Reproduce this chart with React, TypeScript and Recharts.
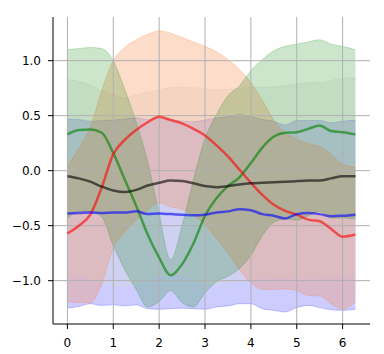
import React from 'react';
import { ComposedChart, Area, Line, XAxis, YAxis, ReferenceLine } from 'recharts';

const xs = [0, 0.25, 0.5, 0.75, 1, 1.25, 1.5, 1.75, 2, 2.25, 2.5, 2.75, 3, 3.25, 3.5, 3.75, 4, 4.25, 4.5, 4.75, 5, 5.25, 5.5, 5.75, 6, 6.28];

const redMean = [-0.57, -0.5, -0.4, -0.15, 0.15, 0.28, 0.37, 0.44, 0.49, 0.46, 0.43, 0.38, 0.32, 0.23, 0.13, 0.01, -0.11, -0.22, -0.31, -0.365, -0.4, -0.445, -0.46, -0.53, -0.6, -0.58];
const redStd = [0.62, 0.7, 0.8, 0.88, 0.85, 0.84, 0.82, 0.8, 0.78, 0.79, 0.78, 0.79, 0.81, 0.85, 0.88, 0.91, 0.91, 0.86, 0.77, 0.71, 0.69, 0.69, 0.68, 0.68, 0.66, 0.61];

const greenMean = [0.33, 0.37, 0.375, 0.345, 0.16, -0.08, -0.32, -0.58, -0.79, -0.95, -0.85, -0.66, -0.41, -0.25, -0.14, -0.06, 0.07, 0.21, 0.31, 0.345, 0.35, 0.38, 0.41, 0.36, 0.35, 0.33];
const greenStd = [0.77, 0.74, 0.745, 0.765, 0.84, 0.82, 0.76, 0.66, 0.4, 0.14, 0.35, 0.58, 0.7, 0.76, 0.82, 0.83, 0.84, 0.8, 0.78, 0.785, 0.8, 0.79, 0.78, 0.79, 0.78, 0.77];

const blueMean = [-0.39, -0.385, -0.38, -0.385, -0.38, -0.38, -0.37, -0.395, -0.39, -0.395, -0.4, -0.405, -0.4, -0.38, -0.37, -0.35, -0.36, -0.395, -0.41, -0.435, -0.395, -0.385, -0.395, -0.415, -0.41, -0.4];
const blueStd = [0.86, 0.85, 0.83, 0.84, 0.84, 0.85, 0.85, 0.86, 0.87, 0.86, 0.85, 0.85, 0.86, 0.86, 0.86, 0.86, 0.85, 0.86, 0.86, 0.85, 0.85, 0.84, 0.85, 0.85, 0.86, 0.86];

const blackMean = [-0.05, -0.07, -0.1, -0.145, -0.18, -0.195, -0.175, -0.135, -0.11, -0.09, -0.095, -0.115, -0.14, -0.15, -0.14, -0.125, -0.115, -0.11, -0.105, -0.1, -0.095, -0.09, -0.09, -0.07, -0.05, -0.05];
const blackStd = [0.88, 0.88, 0.88, 0.87, 0.87, 0.855, 0.865, 0.85, 0.84, 0.845, 0.855, 0.87, 0.885, 0.885, 0.88, 0.875, 0.87, 0.87, 0.865, 0.875, 0.885, 0.89, 0.89, 0.89, 0.89, 0.895];

const xTicks = [0, 1, 2, 3, 4, 5, 6];
const yTicks = [-1, -0.5, 0, 0.5, 1];

const data = xs.map((x, i) => ({
  x,
  red: redMean[i],
  redBand: [redMean[i] - redStd[i], redMean[i] + redStd[i]],
  green: greenMean[i],
  greenBand: [greenMean[i] - greenStd[i], greenMean[i] + greenStd[i]],
  blue: blueMean[i],
  blueBand: [blueMean[i] - blueStd[i], blueMean[i] + blueStd[i]],
  black: blackMean[i],
  blackBand: [blackMean[i] - blackStd[i], blackMean[i] + blackStd[i]],
}));

const fmtY = (v: number) => (v < 0 ? '\u2212' : '') + Math.abs(v).toFixed(1);

const XTick = (props: any) => {
  const { x, y, payload } = props;
  return (
    <text x={x} y={y} dy={15.5} textAnchor="middle" fontSize={12} fontFamily="DejaVu Sans" fill="#000">
      {String(payload.value)}
    </text>
  );
};

const YTick = (props: any) => {
  const { x, y, payload } = props;
  return (
    <text x={x} y={y} dy={4.4} textAnchor="end" fontSize={12} fontFamily="DejaVu Sans" fill="#000">
      {fmtY(payload.value)}
    </text>
  );
};

export default function App() {
  return (
    <div style={{ position: 'absolute', left: 0, top: 0, width: 384, height: 354, background: '#fff' }}>
      <ComposedChart width={384} height={354} data={data} margin={{ top: 17, right: 14, bottom: 0, left: 0 }}>
        <XAxis
          xAxisId="b"
          dataKey="x"
          type="number"
          domain={[-0.314, 6.597]}
          ticks={xTicks}
          allowDataOverflow
          height={30}
          tickSize={5}
          tickMargin={2}
          tick={<XTick />}
          axisLine={{ stroke: '#000' }}
          tickLine={{ stroke: '#000' }}
        />
        <XAxis xAxisId="t" orientation="top" dataKey="x" type="number" domain={[-0.314, 6.597]} allowDataOverflow height={0} tick={false} tickLine={false} axisLine={{ stroke: '#000' }} />
        <YAxis
          yAxisId="l"
          type="number"
          domain={[-1.394, 1.397]}
          ticks={yTicks}
          allowDataOverflow
          width={53}
          tickSize={5}
          tickMargin={7}
          tick={<YTick />}
          axisLine={{ stroke: '#000' }}
          tickLine={{ stroke: '#000' }}
        />
        <YAxis yAxisId="r" orientation="right" type="number" domain={[-1.394, 1.397]} allowDataOverflow width={0} tick={false} tickLine={false} axisLine={{ stroke: '#000' }} />
        <Area xAxisId="b" yAxisId="l" type="monotone" dataKey="blueBand" fill="#0000ff" fillOpacity={0.2} stroke="#0000ff" strokeOpacity={0.2} strokeWidth={1} isAnimationActive={false} />
        <Area xAxisId="b" yAxisId="l" type="monotone" dataKey="blackBand" fill="#dcdcd8" fillOpacity={0.3} stroke="#dcdcd8" strokeOpacity={0.3} strokeWidth={1} isAnimationActive={false} />
        <Area xAxisId="b" yAxisId="l" type="monotone" dataKey="redBand" fill="#f98b51" fillOpacity={0.3} stroke="#f98b51" strokeOpacity={0.3} strokeWidth={1} isAnimationActive={false} />
        <Area xAxisId="b" yAxisId="l" type="monotone" dataKey="greenBand" fill="#008000" fillOpacity={0.2} stroke="#008000" strokeOpacity={0.2} strokeWidth={1} isAnimationActive={false} />
        {xTicks.map((t) => (
          <ReferenceLine key={'gx' + t} xAxisId="b" yAxisId="l" x={t} stroke="#b0b0b0" strokeWidth={1} />
        ))}
        {yTicks.map((t) => (
          <ReferenceLine key={'gy' + t} xAxisId="b" yAxisId="l" y={t} stroke="#b0b0b0" strokeWidth={1} />
        ))}
        <Line xAxisId="b" yAxisId="l" type="monotone" dataKey="green" stroke="#008000" strokeOpacity={0.6} strokeWidth={2.5} dot={false} isAnimationActive={false} />
        <Line xAxisId="b" yAxisId="l" type="monotone" dataKey="red" stroke="#ff0000" strokeOpacity={0.6} strokeWidth={2.5} dot={false} isAnimationActive={false} />
        <Line xAxisId="b" yAxisId="l" type="monotone" dataKey="blue" stroke="#0000ff" strokeOpacity={0.6} strokeWidth={2.5} dot={false} isAnimationActive={false} />
        <Line xAxisId="b" yAxisId="l" type="monotone" dataKey="black" stroke="#000000" strokeOpacity={0.6} strokeWidth={2.5} dot={false} isAnimationActive={false} />
      </ComposedChart>
    </div>
  );
}
